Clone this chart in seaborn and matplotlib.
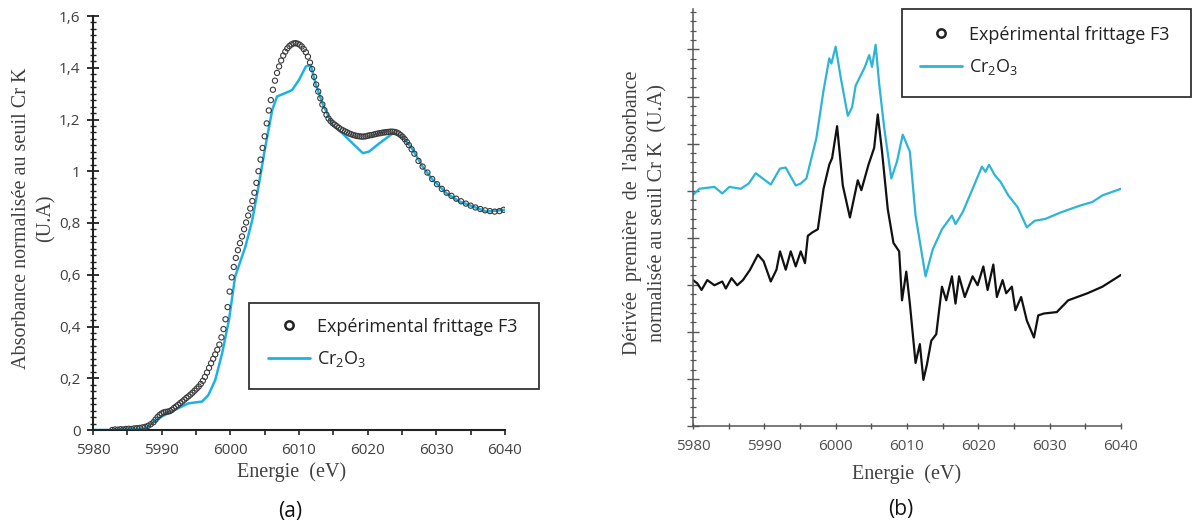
import matplotlib
matplotlib.use("Agg")
import matplotlib.pyplot as plt
from matplotlib.lines import Line2D
from matplotlib.patches import Rectangle
from matplotlib.ticker import MultipleLocator
import seaborn as sns

# (a) normalised absorbance, experimental points (circles)
exp_energy = [
    5982.8, 5983.2, 5983.6, 5984.0, 5984.4, 5984.8, 5985.2, 5985.6, 5986.0, 5986.4,
    5986.8, 5987.2, 5987.6, 5988.0, 5988.4, 5988.8, 5989.1, 5989.4, 5989.7, 5990.0,
    5990.3, 5990.6, 5990.9, 5991.2, 5991.5, 5991.8, 5992.1, 5992.4, 5992.7, 5993.0,
    5993.3, 5993.6, 5993.9, 5994.2, 5994.5, 5994.8, 5995.1, 5995.4, 5995.7, 5996.0,
    5996.3, 5996.6, 5996.9, 5997.2, 5997.5, 5997.8, 5998.1, 5998.4, 5998.7, 5999.0,
    5999.3, 5999.6, 5999.9, 6000.2, 6000.5, 6000.8, 6001.1, 6001.4, 6001.7, 6002.0,
    6002.3, 6002.6, 6002.9, 6003.2, 6003.5, 6003.8, 6004.1, 6004.4, 6004.7, 6005.0,
    6005.3, 6005.6, 6005.9, 6006.2, 6006.5, 6006.8, 6007.1, 6007.4, 6007.7, 6008.0,
    6008.3, 6008.6, 6008.9, 6009.2, 6009.5, 6009.8, 6010.1, 6010.4, 6010.7, 6011.0,
    6011.3, 6011.6, 6011.9, 6012.2, 6012.5, 6012.8, 6013.1, 6013.4, 6013.7, 6014.0,
    6014.3, 6014.6, 6014.9, 6015.2, 6015.5, 6015.8, 6016.1, 6016.4, 6016.7, 6017.0,
    6017.3, 6017.6, 6017.9, 6018.2, 6018.5, 6018.8, 6019.1, 6019.4, 6019.7, 6020.0,
    6020.3, 6020.6, 6020.9, 6021.2, 6021.5, 6021.8, 6022.1, 6022.4, 6022.7, 6023.0,
    6023.3, 6023.6, 6023.9, 6024.2, 6024.5, 6024.8, 6025.1, 6025.4, 6025.7, 6026.0,
    6026.4, 6026.8, 6027.4, 6028.0, 6028.7, 6029.4, 6030.1, 6030.8, 6031.5, 6032.2,
    6032.9, 6033.6, 6034.3, 6035.0, 6035.7, 6036.4, 6037.1, 6037.8, 6038.5, 6039.2,
    6039.8,
]
exp_abs = [
    0.000, 0.002, 0.001, 0.003, 0.002, 0.004, 0.005, 0.004, 0.006, 0.007,
    0.008, 0.010, 0.012, 0.016, 0.022, 0.030, 0.040, 0.050, 0.058, 0.064,
    0.068, 0.070, 0.071, 0.073, 0.078, 0.085, 0.091, 0.097, 0.104, 0.110,
    0.117, 0.124, 0.130, 0.137, 0.144, 0.152, 0.160, 0.168, 0.178, 0.190,
    0.205, 0.222, 0.240, 0.258, 0.275, 0.292, 0.310, 0.330, 0.358, 0.390,
    0.428, 0.475, 0.535, 0.590, 0.630, 0.665, 0.695, 0.722, 0.748, 0.776,
    0.802, 0.829, 0.856, 0.885, 0.917, 0.955, 1.000, 1.045, 1.090, 1.135,
    1.185, 1.235, 1.275, 1.315, 1.350, 1.380, 1.405, 1.428, 1.447, 1.462,
    1.475, 1.484, 1.490, 1.494, 1.495, 1.493, 1.489, 1.482, 1.472, 1.460,
    1.443, 1.420, 1.395, 1.365, 1.335, 1.308, 1.282, 1.258, 1.236, 1.218,
    1.204, 1.194, 1.186, 1.180, 1.174, 1.168, 1.162, 1.158, 1.154, 1.150,
    1.146, 1.143, 1.140, 1.138, 1.136, 1.135, 1.134, 1.134, 1.135, 1.137,
    1.139, 1.140, 1.142, 1.144, 1.146, 1.147, 1.149, 1.150, 1.151, 1.152,
    1.153, 1.153, 1.152, 1.150, 1.146, 1.140, 1.133, 1.124, 1.113, 1.101,
    1.085, 1.068, 1.040, 1.018, 0.995, 0.970, 0.950, 0.932, 0.917, 0.905,
    0.894, 0.884, 0.875, 0.867, 0.860, 0.854, 0.849, 0.846, 0.844, 0.846,
    0.851,
]

# (a) Cr2O3 reference
ref_energy = [
    5980.0, 5982.7, 5987.6, 5990.0, 5992.4, 5993.9, 5995.9, 5996.8, 5997.8, 5998.8,
    5999.8, 6000.7, 6002.2, 6003.2, 6004.1, 6005.1, 6006.1, 6006.8, 6008.0, 6009.0,
    6010.0, 6011.0, 6011.7, 6012.4, 6013.4, 6014.9, 6016.3, 6017.8, 6019.3, 6020.2,
    6021.7, 6023.7, 6025.1, 6026.6, 6028.0, 6029.5, 6031.5, 6033.4, 6035.4, 6037.3,
    6040.0,
]
ref_abs = [
    0.000, 0.000, 0.006, 0.052, 0.084, 0.103, 0.110, 0.135, 0.193, 0.296,
    0.425, 0.593, 0.709, 0.812, 0.941, 1.095, 1.237, 1.289, 1.302, 1.314,
    1.353, 1.405, 1.411, 1.340, 1.263, 1.179, 1.147, 1.108, 1.070, 1.076,
    1.108, 1.147, 1.134, 1.082, 1.018, 0.966, 0.915, 0.883, 0.863, 0.844,
    0.851,
]

# (b) first derivative, Cr2O3 (offset, arbitrary units)
der_ref_energy = [
    5980.0, 5980.9, 5983.0, 5984.1, 5985.1, 5986.7, 5987.8, 5988.8, 5990.9, 5992.2,
    5993.0, 5994.4, 5995.1, 5995.9, 5997.3, 5998.3, 5999.1, 5999.4, 6000.0, 6000.7,
    6001.7, 6002.3, 6002.8, 6004.1, 6004.7, 6005.1, 6005.6, 6006.1, 6006.8, 6007.8,
    6008.6, 6009.4, 6010.4, 6011.2, 6012.6, 6013.6, 6014.9, 6016.3, 6016.8, 6017.8,
    6019.2, 6020.5, 6021.0, 6021.5, 6022.3, 6023.1, 6024.2, 6025.5, 6026.8, 6027.9,
    6029.4, 6031.6, 6034.2, 6036.0, 6037.4, 6040.0,
]
der_ref = [
    4.91, 5.04, 5.08, 4.94, 5.08, 5.04, 5.15, 5.37, 5.13, 5.47,
    5.49, 5.11, 5.15, 5.26, 6.12, 7.13, 7.81, 7.70, 8.06, 7.41,
    6.59, 6.77, 7.23, 7.63, 7.88, 7.63, 8.10, 7.27, 6.34, 5.26,
    5.62, 6.19, 5.83, 4.47, 3.18, 3.75, 4.18, 4.47, 4.29, 4.54,
    5.04, 5.51, 5.40, 5.55, 5.33, 5.19, 4.90, 4.65, 4.22, 4.36,
    4.40, 4.54, 4.68, 4.76, 4.90, 5.04,
]

# (b) first derivative, experimental
der_exp_energy = [
    5980.0, 5980.6, 5981.2, 5982.0, 5983.0, 5984.1, 5984.6, 5985.4, 5986.2, 5987.0,
    5988.0, 5989.1, 5989.9, 5990.9, 5991.7, 5992.2, 5993.0, 5993.7, 5994.4, 5995.1,
    5995.7, 5996.1, 5996.7, 5997.5, 5998.3, 5999.1, 5999.5, 6000.2, 6001.0, 6002.0,
    6003.1, 6003.6, 6004.6, 6005.4, 6005.9, 6006.5, 6007.3, 6008.1, 6008.9, 6009.3,
    6009.9, 6010.4, 6011.2, 6011.8, 6012.3, 6012.8, 6013.4, 6014.1, 6014.9, 6015.5,
    6016.3, 6016.8, 6017.3, 6018.1, 6019.2, 6019.9, 6020.7, 6021.3, 6022.1, 6022.6,
    6023.4, 6023.9, 6024.7, 6025.2, 6026.0, 6026.8, 6027.8, 6028.4, 6029.2, 6031.0,
    6032.6, 6035.3, 6037.4, 6040.0,
]
der_exp = [
    3.10, 3.03, 2.89, 3.10, 2.99, 3.07, 2.92, 3.14, 2.99, 3.10,
    3.32, 3.64, 3.50, 3.07, 3.32, 3.71, 3.32, 3.71, 3.39, 3.71,
    3.46, 4.04, 4.11, 4.18, 5.04, 5.55, 5.69, 6.37, 5.11, 4.43,
    5.22, 5.01, 5.55, 5.91, 6.62, 5.83, 4.61, 3.89, 3.71, 2.67,
    3.28, 2.60, 1.34, 1.74, 0.98, 1.31, 1.81, 1.95, 2.96, 2.67,
    3.18, 2.60, 3.18, 2.74, 3.18, 2.99, 3.39, 2.89, 3.43, 2.74,
    3.10, 2.82, 2.96, 2.46, 2.74, 2.24, 1.88, 2.35, 2.39, 2.42,
    2.67, 2.82, 2.96, 3.21,
]

left_yticks = [0, 0.2, 0.4, 0.6, 0.8, 1.0, 1.2, 1.4, 1.6]
left_ytick_labels = ["0", "0,2", "0,4", "0,6", "0,8", "1", "1,2", "1,4", "1,6"]
xticks = [5980, 5990, 6000, 6010, 6020, 6030, 6040]

exp_label = "Expérimental frittage F3"
ref_label = r"Cr$_\mathregular{2}$O$_\mathregular{3}$"

sns.set_style("ticks")
plt.rcParams["font.family"] = ["Open Sans", "DejaVu Sans"]
plt.rcParams["mathtext.fontset"] = "custom"
plt.rcParams["mathtext.rm"] = "Open Sans"

W, H = 1193, 531
fig = plt.figure(figsize=(W / 100, H / 100), dpi=100)

cyan_a = "#1cb2e6"
cyan_b = "#2db4d6"
grey_txt = "#404040"


def fx(px):
    return px / W


def fy(py):
    return 1 - py / H


# ---------- panel (a)
ax1 = fig.add_axes([fx(93), fy(430), fx(505) - fx(93), fy(16) - fy(430)])
sns.lineplot(x=ref_energy, y=ref_abs, ax=ax1, color=cyan_a, lw=1.8, sort=False, estimator=None)
sns.scatterplot(x=exp_energy, y=exp_abs, ax=ax1, marker="o", s=14,
                facecolors="none", edgecolor="#3a3a3a", linewidth=0.8, zorder=3)
ax1.set_xlim(5980, 6040)
ax1.set_ylim(0, 1.6)
ax1.set_xticks(xticks)
ax1.xaxis.set_minor_locator(MultipleLocator(5))
ax1.set_yticks(left_yticks)
ax1.set_yticklabels(left_ytick_labels)
ax1.yaxis.set_minor_locator(MultipleLocator(0.025))
ax1.tick_params(axis="y", which="major", direction="inout", length=8, width=1.3, pad=5,
                labelsize=11, labelcolor=grey_txt, color="#222")
ax1.tick_params(axis="y", which="minor", direction="inout", length=4, width=1.0, color="#222")
ax1.tick_params(axis="x", which="both", direction="out", length=3.5, width=1.2, pad=6,
                labelsize=11, labelcolor=grey_txt, color="#222")
for s in ["top", "right"]:
    ax1.spines[s].set_visible(False)
for s in ["left", "bottom"]:
    ax1.spines[s].set_linewidth(1.5)
    ax1.spines[s].set_color("#222")
ax1.set_xlabel("")
ax1.set_ylabel("")

# ---------- panel (b)
ax2 = fig.add_axes([fx(693), fy(426), fx(1121) - fx(693), fy(8.5) - fy(426)])
sns.lineplot(x=der_ref_energy, y=der_ref, ax=ax2, color=cyan_b, lw=1.6, sort=False, estimator=None)
sns.lineplot(x=der_exp_energy, y=der_exp, ax=ax2, color="#111111", lw=1.6, sort=False, estimator=None)
ax2.set_xlim(5980, 6040)
ax2.set_ylim(0, 8.87)
ax2.set_xticks(xticks)
ax2.xaxis.set_minor_locator(MultipleLocator(5))
ax2.yaxis.set_major_locator(MultipleLocator(1))
ax2.yaxis.set_minor_locator(MultipleLocator(0.2))
ax2.set_yticklabels([])
ax2.tick_params(axis="y", which="major", direction="inout", length=9, width=1.0, color="#555")
ax2.tick_params(axis="y", which="minor", direction="inout", length=4, width=0.9, color="#555")
ax2.tick_params(axis="x", which="both", direction="inout", length=5, width=1.0, pad=7,
                labelsize=11, labelcolor="#505050", color="#555")
for s in ["top", "right"]:
    ax2.spines[s].set_visible(False)
for s in ["left", "bottom"]:
    ax2.spines[s].set_linewidth(1.1)
    ax2.spines[s].set_color("#555")
ax2.set_xlabel("")
ax2.set_ylabel("")

# ---------- axis titles (serif, as in the source figure)
serif = ["Liberation Serif", "DejaVu Serif"]
fig.text(fx(292), fy(472), "Energie  (eV)", family=serif, fontsize=14.5, color=grey_txt,
         ha="center", va="center")
fig.text(fx(907), fy(474), "Energie  (eV)", family=serif, fontsize=14.5, color=grey_txt,
         ha="center", va="center")
fig.text(fx(34), fy(218), "Absorbance normalisée au seuil Cr K\n(U.A)", family=serif,
         fontsize=14.5, color=grey_txt, rotation=90, ha="center", va="center",
         multialignment="center", linespacing=1.35)
fig.text(fx(645), fy(213), "Dérivée  première  de  l'absorbance\nnormalisée au seuil Cr K  (U.A)",
         family=serif, fontsize=14.5, color=grey_txt, rotation=90, ha="center", va="center",
         multialignment="center", linespacing=1.45)

fig.text(fx(290), fy(512), "(a)", fontsize=15, color="#111", ha="center", va="center")
fig.text(fx(901), fy(510), "(b)", fontsize=15, color="#111", ha="center", va="center")

# ---------- legends (frame drawn separately so its box matches the source)
def add_legend(box, handle_x, mid_y, lcolor):
    x0, y0, x1, y1 = box
    fig.patches.append(Rectangle((fx(x0), fy(y1)), fx(x1) - fx(x0), fy(y0) - fy(y1),
                                 transform=fig.transFigure, fill=False,
                                 edgecolor="#333", linewidth=1.3))
    handles = [
        Line2D([], [], ls="none", marker="o", ms=6, mfc="none", mec="#222", mew=1.8),
        Line2D([], [], color=lcolor, lw=2),
    ]
    fig.legend(handles, [exp_label, ref_label], loc="center left",
               bbox_to_anchor=(fx(handle_x), fy(mid_y)), frameon=False,
               fontsize=13, borderpad=0, borderaxespad=0, handlelength=2.35,
               handletextpad=0.35, labelspacing=0.75, labelcolor="#222")


add_legend((249, 303, 539, 389), 268, 343.5, cyan_a)
add_legend((902, 9, 1191, 97), 920, 51.5, cyan_b)

fig.savefig("out.png", dpi=100)
